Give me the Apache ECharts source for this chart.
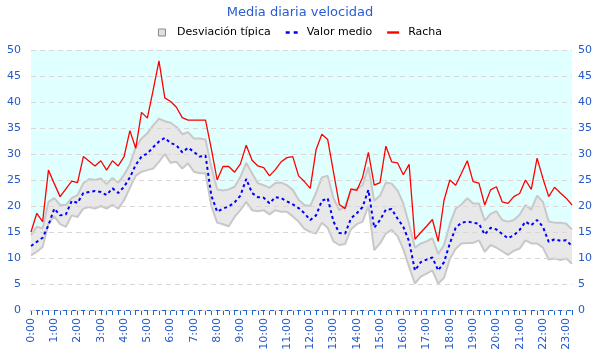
<!DOCTYPE html>
<html><head><meta charset="utf-8">
<script src="https://cdn.jsdelivr.net/npm/echarts@6/dist/echarts.min.js"></script>
<style>html,body{margin:0;padding:0;background:#fff}#c{width:600px;height:360px}</style>
</head><body><div id="c"></div>
<script>
// 15-minute slots from 0:00 to 23:15
const times = [];
for (let h = 0; h < 24; h++) { for (const m of ['00','15','30','45']) times.push(h + ':' + m); }
const categories = times.slice(0, 94);

const racha = [15.0,18.6,17.0,26.9,24.3,21.8,23.3,24.8,24.5,29.5,
28.6,27.7,28.7,26.9,28.7,27.7,29.5,34.5,31.1,38.0,
36.9,42.3,47.9,40.8,40.1,39.0,37.0,36.5,36.5,36.5,
36.5,31.0,25.0,27.6,27.6,26.5,28.1,31.7,28.8,27.7,
27.4,25.8,27.0,28.5,29.3,29.5,25.8,24.7,23.4,30.8,
33.8,32.8,26.5,20.3,19.5,23.3,23.0,25.5,30.3,24.0,
24.5,31.5,28.5,28.3,26.0,28.0,13.6,14.9,16.1,17.4,
13.2,21.1,25.0,24.0,26.3,28.7,24.7,24.4,20.2,23.1,
23.7,20.8,20.5,21.8,22.4,25.0,23.2,29.2,25.3,21.8,
23.6,22.5,21.5,20.2];

const media = [12.3,13.1,13.9,16.3,19.5,18.2,18.4,21.0,20.6,22.5,
22.7,22.9,22.7,22.1,23.4,22.5,23.7,25.5,27.9,29.5,
30.1,31.3,32.4,33.1,32.1,31.7,30.3,31.2,30.4,29.5,
29.7,22.0,18.9,19.5,19.9,20.7,22.0,25.2,22.5,21.7,
21.6,20.5,21.7,21.5,20.9,20.3,19.6,18.6,17.3,18.2,
21.0,21.5,17.0,14.8,14.7,17.6,18.6,19.8,23.1,15.8,
17.3,19.3,19.4,17.6,16.0,13.2,7.6,9.2,9.7,10.1,
7.6,9.2,12.8,15.8,16.8,17.0,16.8,16.6,14.5,15.8,
15.5,14.6,13.8,14.4,15.4,17.0,16.3,17.3,16.0,13.1,
13.6,13.3,13.4,12.3];

const bandUpper = [14.4,16.0,15.7,20.8,21.5,20.2,20.2,21.5,22.1,24.4,
25.2,25.0,25.3,24.2,25.4,24.5,26.0,28.0,31.3,33.0,
34.0,35.5,36.8,36.3,36.0,35.2,33.8,34.2,33.0,33.0,
32.8,27.5,23.2,23.0,23.2,23.7,25.6,28.3,26.3,24.4,
24.0,23.5,24.4,24.5,24.0,23.1,21.2,20.2,20.0,22.5,
25.5,25.8,21.5,19.2,20.0,23.0,23.3,24.0,27.5,21.0,
22.0,24.5,24.3,23.0,20.5,16.5,12.0,12.8,13.2,13.8,
10.8,12.5,16.5,19.5,20.3,21.5,20.5,20.5,17.2,18.5,
19.0,17.3,17.0,17.3,18.3,20.2,19.3,22.0,20.8,17.0,
16.8,16.8,16.6,15.5];

const bandLower = [10.5,11.2,12.1,16.6,18.0,16.5,16.0,18.2,17.9,19.5,
19.8,19.5,20.0,19.5,20.2,19.5,21.1,23.5,25.8,26.6,
26.9,27.2,28.5,30.0,28.3,28.5,27.2,28.2,26.6,26.3,
26.3,20.0,16.8,16.5,16.1,17.9,19.2,20.8,19.2,19.0,
19.2,18.4,19.2,18.9,18.9,18.0,17.0,15.6,15.0,14.7,
16.8,15.8,13.2,12.5,12.7,15.5,16.5,17.0,20.0,11.5,
12.8,14.7,15.4,14.2,11.7,8.3,5.1,6.4,7.0,7.6,
5.1,6.2,9.8,11.8,12.8,12.9,12.9,13.4,11.2,12.5,
12.0,11.3,10.6,11.4,11.8,13.4,12.8,12.8,12.0,9.7,
9.9,9.6,9.9,8.9];

const yMax = 50;
const bandWidth = bandUpper.map((u, i) => +(u - bandLower[i]).toFixed(2));
const skyFill = bandUpper.map(u => +(yMax - u).toFixed(2));

const blue = '#2459c8';
const font = 'DejaVu Sans';
const chart = echarts.init(document.getElementById('c'));
chart.setOption({
  animation: false,
  title: { text: 'Media diaria velocidad', left: 'center', top: 1,
    textStyle: { color: '#2a5bd7', fontSize: 13, fontWeight: 'normal', fontFamily: font } },
  legend: { top: 22, left: 'center', itemWidth: 12, itemHeight: 7, itemGap: 15,
    textStyle: { fontSize: 11, color: '#000', fontFamily: font, padding: [0, 0, 0, 4] },
    data: [
      { name: 'Desviación típica', icon: 'path://M0,0H10V10H0Z', itemStyle: { color: '#e0e0e0', borderColor: '#888', borderWidth: 1 } },
      { name: 'Valor medio', icon: 'path://M0,0H4V2.4H0Z M8,0H12V2.4H8Z', itemStyle: { color: '#0000ff' } },
      { name: 'Racha', icon: 'path://M0,0H12V2.4H0Z', itemStyle: { color: '#ff0000' } }
    ] },
  grid: { left: 31, right: 28, top: 50, bottom: 50, containLabel: false },
  xAxis: { type: 'category', data: categories, boundaryGap: false,
    axisLine: { lineStyle: { color: '#1f66cc', width: 1 } },
    axisTick: { interval: 0, length: 5, lineStyle: { color: '#1f66cc' } },
    axisLabel: { interval: 3, rotate: 90, color: blue, fontSize: 11, fontFamily: font, margin: 8 },
    splitLine: { show: false } },
  yAxis: [
    { type: 'value', min: 0, max: yMax, interval: 5, z: 3,
      axisLine: { show: false }, axisTick: { show: false },
      axisLabel: { color: blue, fontSize: 11, fontFamily: font, margin: 10 },
      splitLine: { lineStyle: { color: '#dcd6d6', type: [5, 4], width: 1 } } },
    { type: 'value', min: 0, max: yMax, interval: 5, position: 'right',
      axisLine: { show: false }, axisTick: { show: false },
      axisLabel: { color: blue, fontSize: 11, fontFamily: font, margin: 6 },
      splitLine: { show: false } }
  ],
  series: [
    { name: '_low', type: 'line', data: bandLower, stack: 'sd', symbol: 'none', silent: true, z: 2,
      lineStyle: { color: '#c8c8c8', width: 2 } },
    { name: 'Desviación típica', type: 'line', data: bandWidth, stack: 'sd', symbol: 'none', z: 2,
      lineStyle: { color: '#c8c8c8', width: 2 }, itemStyle: { color: '#e0e0e0' },
      areaStyle: { color: '#e8e8e8', opacity: 1 } },
    { name: '_sky', type: 'line', data: skyFill, stack: 'sd', symbol: 'none', silent: true, z: 1,
      lineStyle: { width: 0 }, areaStyle: { color: '#e0ffff', opacity: 1 } },
    { name: 'Valor medio', type: 'line', data: media, symbol: 'none', z: 4,
      itemStyle: { color: '#0000ff' },
      lineStyle: { color: '#0000ff', width: 2, type: [3, 3] } },
    { name: 'Racha', type: 'line', data: racha, symbol: 'none', z: 4,
      itemStyle: { color: '#ff0000' },
      lineStyle: { color: '#ff0000', width: 1.3 } }
  ]
});
</script>
</body></html>
